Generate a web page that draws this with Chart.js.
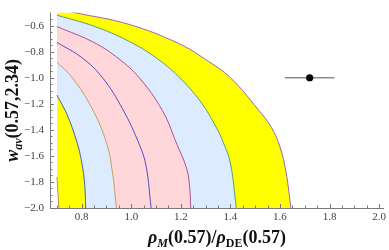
<!DOCTYPE html>
<html>
<head>
<meta charset="utf-8">
<script src="https://cdn.jsdelivr.net/npm/chart.js@4.4.0/dist/chart.umd.min.js"></script>
<style>
html, body { margin: 0; padding: 0; background: #fff; }
#grafico { display: block; }
</style>
</head>
<body>
<canvas id="grafico" width="389" height="250"></canvas>
<script>
// Contornos (x = rho_M/rho_DE, y = w_av), de fora para dentro
const outerX  = [0.70, 0.772, 0.99, 1.19, 1.30, 1.40, 1.51, 1.565, 1.60, 1.625, 1.644];
const outerY  = [-0.47, -0.50, -0.59, -0.736, -0.86, -1.00, -1.24, -1.38, -1.53, -1.73, -2.0];

const greenX  = [0.70, 0.85, 0.99, 1.10, 1.19, 1.28, 1.344, 1.372, 1.40, 1.424];
const greenY  = [-0.52, -0.605, -0.72, -0.847, -0.99, -1.185, -1.385, -1.50, -1.655, -2.0];

const magentaX = [0.70, 0.85, 0.95, 1.032, 1.125, 1.184, 1.224, 1.236, 1.24];
const magentaY = [-0.607, -0.73, -0.855, -1.00, -1.25, -1.51, -1.70, -1.85, -2.0];

const midX    = [0.70, 0.80, 0.884, 0.965, 1.032, 1.06, 1.08];
const midY    = [-0.729, -0.845, -1.00, -1.24, -1.51, -1.68, -2.0];

const orangeX = [0.70, 0.76, 0.84, 0.90, 0.925, 0.94];
const orangeY = [-0.881, -0.995, -1.23, -1.50, -1.74, -2.0];

const innerBlueX = [0.70, 0.74, 0.78, 0.80, 0.812, 0.816];
const innerBlueY = [-1.134, -1.28, -1.49, -1.65, -1.82, -2.0];

const innerX  = [0.70, 0.704, 0.708];
const innerY  = [-1.762, -1.88, -2.0];

// Ponto observado com barra de erro horizontal
const obsX = [1.72];
const obsY = [-1.0];
const obsErrX = [0.10];

// Marcas dos eixos
const xTicks = [0.8, 1.0, 1.2, 1.4, 1.6, 1.8, 2.0];
const yTicks = [-2.0, -1.8, -1.6, -1.4, -1.2, -1.0, -0.8, -0.6];

const amarelo = '#ffff00';
const azul = '#dcebfd';
const rosa = '#ffd6da';

function pontos(xs, ys) {
    return xs.map((x, i) => ({ x: x, y: ys[i] }));
}

function curva(xs, ys, cor, preenche, ordem) {
    return {
        data: pontos(xs, ys),
        borderColor: cor,
        borderWidth: 1,
        backgroundColor: preenche || 'transparent',
        fill: preenche ? 'start' : false,
        tension: 0.4,
        pointRadius: 0,
        order: ordem
    };
}

const fmt = v => v.toFixed(1).replace('-', '\u2212');

// Desenha textos com subscritos (titulos dos eixos)
function texto(ctx, partes, cx, cy) {
    let total = 0;
    partes.forEach(p => { ctx.font = p.f; p.w = ctx.measureText(p.t).width; total += p.w; });
    let x = cx - total / 2;
    partes.forEach(p => {
        ctx.font = p.f;
        ctx.fillText(p.t, x, cy + (p.dy || 0));
        x += p.w;
    });
}

const eixos = {
    id: 'eixos',
    afterDatasetsDraw(chart) {
        const ctx = chart.ctx;
        const xs = chart.scales.x, ys = chart.scales.y, area = chart.chartArea;
        ctx.save();
        ctx.strokeStyle = '#7a7a7a';
        ctx.lineWidth = 1;
        ctx.beginPath();
        // linhas dos eixos
        ctx.moveTo(area.left + 0.5, area.top);
        ctx.lineTo(area.left + 0.5, area.bottom + 1);
        ctx.moveTo(area.left, area.bottom + 0.5);
        ctx.lineTo(area.right, area.bottom + 0.5);
        // marcas em x (para dentro)
        for (let k = 14; k <= 40; k++) {
            const px = Math.round(xs.getPixelForValue(k * 0.05)) + 0.5;
            const len = (k % 4 === 0) ? 4 : 2.5;
            ctx.moveTo(px, area.bottom);
            ctx.lineTo(px, area.bottom - len);
        }
        // marcas em y
        for (let k = -40; k <= -11; k++) {
            const py = Math.round(ys.getPixelForValue(k * 0.05)) + 0.5;
            const len = (k % 4 === 0) ? 4 : 2.5;
            ctx.moveTo(area.left, py);
            ctx.lineTo(area.left + len, py);
        }
        ctx.stroke();

        // titulos
        ctx.fillStyle = '#111';
        ctx.textBaseline = 'alphabetic';
        ctx.textAlign = 'left';
        texto(ctx, [
            { t: 'ρ', f: 'italic bold 18px "Liberation Serif"' },
            { t: 'M', f: 'italic bold 12px "Liberation Serif"', dy: 4 },
            { t: '(0.57)/', f: 'bold 18px "Liberation Serif"' },
            { t: 'ρ', f: 'italic bold 18px "Liberation Serif"' },
            { t: 'DE', f: 'bold 12px "Liberation Serif"', dy: 4 },
            { t: '(0.57)', f: 'bold 18px "Liberation Serif"' }
        ], (area.left + area.right) / 2, 243);

        ctx.translate(18, (area.top + area.bottom) / 2);
        ctx.rotate(-Math.PI / 2);
        texto(ctx, [
            { t: 'w', f: 'italic bold 18px "Liberation Serif"' },
            { t: 'av', f: 'italic bold 12px "Liberation Serif"', dy: 4 },
            { t: '(0.57,2.34)', f: 'bold 18px "Liberation Serif"' }
        ], 0, 0);
        ctx.restore();
    }
};

const fonteTicks = { family: '"Liberation Serif"', size: 11 };

const ctx = document.getElementById('grafico').getContext('2d');

const grafico = new Chart(ctx, {
    type: 'line',
    data: {
        datasets: [
            curva(outerX, outerY, '#9d62b8', amarelo, 7),
            curva(greenX, greenY, '#5aa06e', azul, 6),
            curva(magentaX, magentaY, '#b0508f', rosa, 5),
            curva(midX, midY, '#5050b8', null, 4),
            curva(orangeX, orangeY, '#c4a062', azul, 3),
            curva(innerBlueX, innerBlueY, '#4a5ec0', amarelo, 2),
            curva(innerX, innerY, '#c08a5a', '#ffffff', 1),
            {
                // barra de erro
                data: [
                    { x: obsX[0] - obsErrX[0], y: obsY[0] },
                    { x: obsX[0] + obsErrX[0], y: obsY[0] }
                ],
                borderColor: '#8c8c8c',
                borderWidth: 1.5,
                pointRadius: 0,
                fill: false,
                order: -1
            },
            {
                data: pontos(obsX, obsY),
                showLine: false,
                pointRadius: 3.6,
                pointBackgroundColor: '#000',
                pointBorderWidth: 0,
                fill: false,
                order: -2
            }
        ]
    },
    options: {
        responsive: false,
        animation: false,
        devicePixelRatio: 1,
        layout: { padding: { top: 0, right: 1, bottom: 0, left: 0 } },
        plugins: { legend: { display: false }, tooltip: { enabled: false } },
        scales: {
            x: {
                type: 'linear',
                min: 0.672,
                max: 2.02,
                grid: { display: false, drawTicks: false },
                border: { display: false },
                afterBuildTicks: s => { s.ticks = xTicks.map(v => ({ value: v })); },
                afterFit: s => { s.height = 42; },
                ticks: {
                    autoSkip: false,
                    maxRotation: 0,
                    padding: 3,
                    color: '#444',
                    font: fonteTicks,
                    callback: v => fmt(v)
                }
            },
            y: {
                type: 'linear',
                min: -2.0,
                max: -0.5,
                grid: { display: false, drawTicks: false },
                border: { display: false },
                afterBuildTicks: s => { s.ticks = yTicks.map(v => ({ value: v })); },
                afterFit: s => { s.width = 50; },
                ticks: {
                    autoSkip: false,
                    padding: 6,
                    color: '#444',
                    font: fonteTicks,
                    callback: v => fmt(v)
                }
            }
        }
    },
    plugins: [eixos]
});
</script>
</body>
</html>
